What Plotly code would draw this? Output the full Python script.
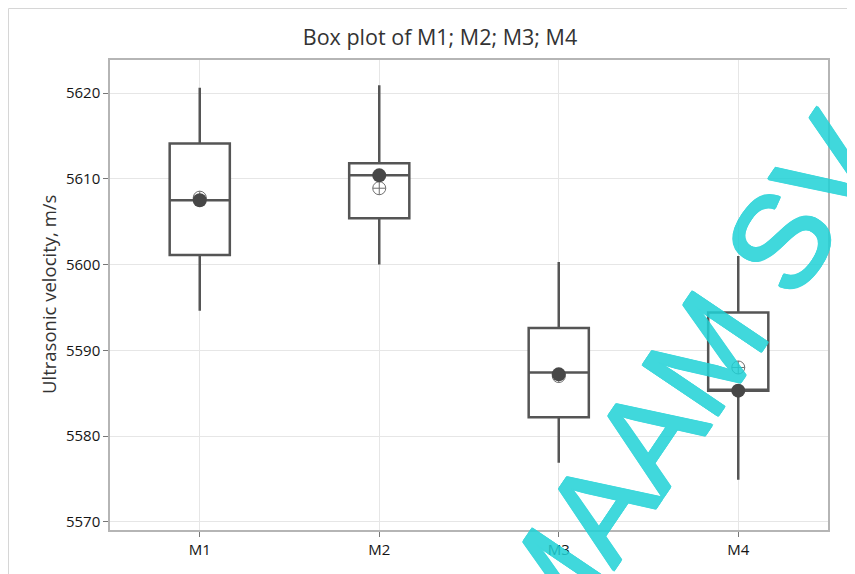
import plotly.graph_objects as go

# ---- data ----
categories = ["M1", "M2", "M3", "M4"]
q1 = [5601.1, 5605.4, 5582.2, 5585.3]
median = [5607.5, 5610.4, 5587.4, 5585.3]
q3 = [5614.1, 5611.8, 5592.6, 5594.4]
lower_whisker = [5594.6, 5600.0, 5576.9, 5574.9]
upper_whisker = [5620.6, 5620.9, 5600.3, 5601.0]
median_dot = [5607.5, 5610.4, 5587.2, 5585.3]
mean_vals = [5607.8, 5608.9, 5587.0, 5588.0]
y_ticks = [5570, 5580, 5590, 5600, 5610, 5620]

FONT = "Open Sans, Noto Sans, sans-serif"
BOXC = "#555555"

# page has an 8px body margin: figure origin sits at page (8, 8)
W, H = 847, 566
L, T = 102, 52            # plot area at page x=110, y=60
PW, PH = 718, 470         # plot area size

fig = go.Figure()

fig.add_trace(go.Box(
    x=categories,
    q1=q1, median=median, q3=q3,
    lowerfence=lower_whisker, upperfence=upper_whisker,
    fillcolor="white",
    line=dict(color=BOXC, width=2.5),
    width=0.335,
    whiskerwidth=0,
    boxpoints=False,
    hoverinfo="skip",
    showlegend=False,
))

fig.add_trace(go.Scatter(
    x=categories, y=mean_vals, mode="markers",
    marker=dict(symbol="circle-cross-open", size=13,
                color="#6e6e6e", line=dict(color="#6e6e6e", width=1)),
    showlegend=False, hoverinfo="skip",
))

fig.add_trace(go.Scatter(
    x=categories, y=median_dot, mode="markers",
    marker=dict(symbol="circle", size=14, color="#474747"),
    showlegend=False, hoverinfo="skip",
))

axis_line = "#b5b5b5"
tickfont = dict(family=FONT, size=15, color="#151515")
fig.update_xaxes(
    type="category",
    range=[-0.5, 3.5],
    showgrid=True, gridcolor="#e6e6e6", gridwidth=1,
    showline=True, linecolor=axis_line, linewidth=1.5, mirror=True,
    ticks="outside", ticklen=5, tickcolor="#777777",
    tickfont=tickfont,
    zeroline=False,
)
fig.update_yaxes(
    range=[5569.05, 5623.85],
    tickvals=y_ticks,
    ticktext=[str(v) for v in y_ticks],
    showgrid=True, gridcolor="#e6e6e6", gridwidth=1,
    showline=True, linecolor=axis_line, linewidth=1.5, mirror=True,
    ticks="outside", ticklen=5, tickcolor="#777777",
    tickfont=tickfont,
    zeroline=False,
)


def px_x(page_x):
    return (page_x - 8 - L) / PW


def px_y(page_y):
    return (T + PH - (page_y - 8)) / PH


WM = "#1fd2d6"
wm_shadow = ", ".join(f"{dx}px {dy}px 0px {WM}" for dx, dy in
                      [(1, 1), (-1, -1), (1, -1), (-1, 1), (1, 0), (-1, 0), (0, 1), (0, -1)])

fig.update_layout(
    width=W, height=H,
    margin=dict(l=L, r=W - L - PW, t=T, b=H - T - PH),
    paper_bgcolor="white", plot_bgcolor="white",
    title=dict(text="Box plot of M1; M2; M3; M4",
               x=(440 - 8) / W, xref="container", xanchor="center",
               y=1 - (37 - 8) / H, yref="container", yanchor="middle",
               font=dict(family=FONT, size=21.5, color="#333333")),
    shapes=[dict(type="rect", xref="paper", yref="paper",
                 x0=px_x(8.5), x1=1.3,
                 y0=-0.3, y1=px_y(8.5),
                 line=dict(color="#d6d6d6", width=1),
                 fillcolor="rgba(0,0,0,0)", layer="below")],
    annotations=[
        dict(text="Ultrasonic velocity, m/s", xref="paper", yref="paper",
             x=px_x(48), y=0.5, xanchor="center", yanchor="middle",
             textangle=-90, showarrow=False,
             font=dict(family=FONT, size=18.5, color="#333333")),
        dict(text="MAAM SV", xref="paper", yref="paper",
             x=px_x(684), y=px_y(384),
             xanchor="center", yanchor="middle",
             textangle=-56, showarrow=False, opacity=0.85,
             font=dict(family="Liberation Sans, Arial, sans-serif",
                       size=132, color=WM, shadow=wm_shadow)),
    ],
)

fig.write_html("out.html")
